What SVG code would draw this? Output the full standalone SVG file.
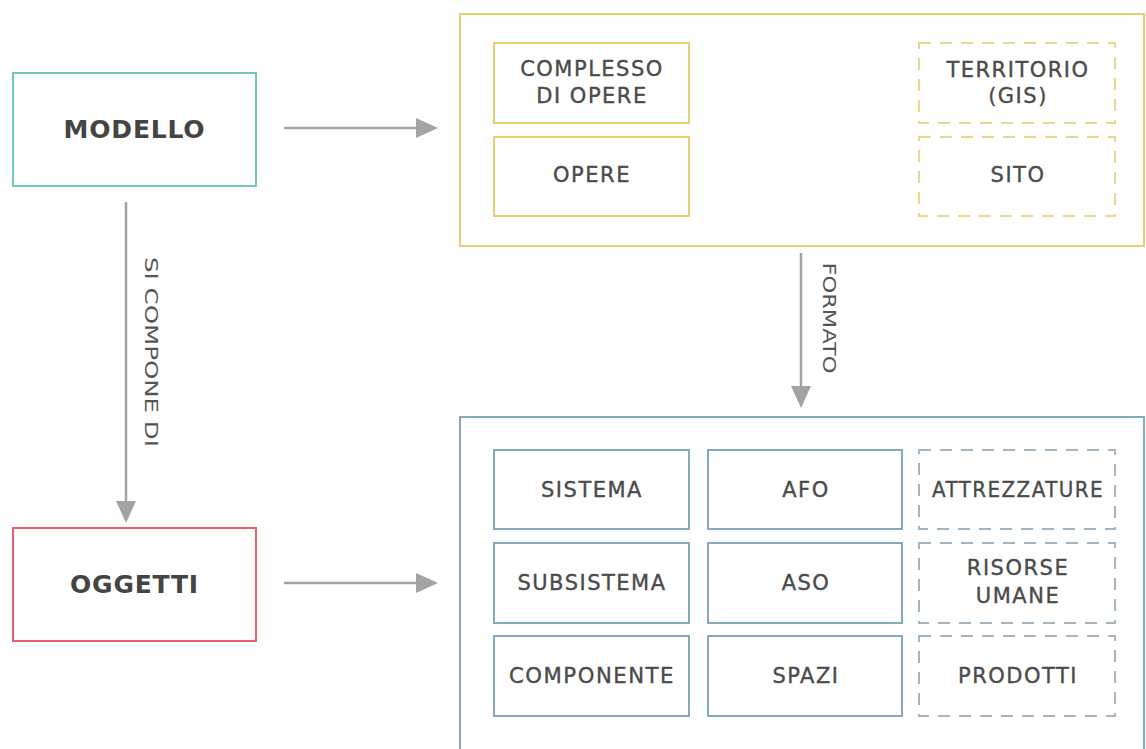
<svg xmlns="http://www.w3.org/2000/svg" width="1146" height="749" viewBox="0 0 1146 749">
<style>
text{font-family:"DejaVu Sans","Liberation Sans",sans-serif;fill:#4a4a4a;text-anchor:middle}
.big{font-size:25px;font-weight:bold;fill:#444;letter-spacing:0.8px}
.sm{font-size:21px;letter-spacing:1.5px;stroke:#4a4a4a;stroke-width:0.35}
.lbl{font-size:18px;fill:#555}
.yel{fill:none;stroke:#e6cf73;stroke-width:2}
.yeld{fill:none;stroke:#e9d88a;stroke-width:2;stroke-dasharray:12 9}
.blu{fill:none;stroke:#84a9c0;stroke-width:2}
.blud{fill:none;stroke:#a3b4c2;stroke-width:2;stroke-dasharray:12 9}
.line{stroke:#a3a3a3;stroke-width:2.5;fill:none}
.head{fill:#a3a3a3}
</style>
<rect width="1146" height="749" fill="#ffffff"/>
<g id="modello">
<rect x="13" y="73" width="243" height="113" fill="none" stroke="#74c6bb" stroke-width="2"/>
<text class="big" x="134.5" y="138">MODELLO</text>
</g>
<g id="oggetti">
<rect x="13" y="528" width="243" height="113" fill="none" stroke="#e2616c" stroke-width="2"/>
<text class="big" x="134.5" y="593">OGGETTI</text>
</g>
<g id="contenitore-opere">
<rect class="yel" x="460" y="14" width="684" height="232"/>
</g>
<g id="complesso">
<rect class="yel" x="494" y="43" width="195" height="80"/>
<text class="sm" x="592" y="76">COMPLESSO</text>
<text class="sm" x="592" y="103">DI OPERE</text>
</g>
<g id="opere">
<rect class="yel" x="494" y="137" width="195" height="79"/>
<text class="sm" x="592" y="182">OPERE</text>
</g>
<g id="territorio">
<rect class="yeld" x="919" y="43" width="196" height="80"/>
<text class="sm" x="1018" y="77">TERRITORIO</text>
<text class="sm" x="1018" y="103">(GIS)</text>
</g>
<g id="sito">
<rect class="yeld" x="919" y="137" width="196" height="79"/>
<text class="sm" x="1018" y="182">SITO</text>
</g>
<g id="contenitore-oggetti">
<rect class="blu" x="460" y="417" width="684" height="345"/>
</g>
<g id="sistema">
<rect class="blu" x="494" y="450" width="195" height="79"/>
<text class="sm" x="592" y="497">SISTEMA</text>
</g>
<g id="subsistema">
<rect class="blu" x="494" y="543" width="195" height="80"/>
<text class="sm" x="592" y="590">SUBSISTEMA</text>
</g>
<g id="componente">
<rect class="blu" x="494" y="636" width="195" height="80"/>
<text class="sm" x="592" y="683" textLength="166" lengthAdjust="spacingAndGlyphs">COMPONENTE</text>
</g>
<g id="afo">
<rect class="blu" x="708" y="450" width="194" height="79"/>
<text class="sm" x="806" y="497">AFO</text>
</g>
<g id="aso">
<rect class="blu" x="708" y="543" width="194" height="80"/>
<text class="sm" x="806" y="590">ASO</text>
</g>
<g id="spazi">
<rect class="blu" x="708" y="636" width="194" height="80"/>
<text class="sm" x="806" y="683">SPAZI</text>
</g>
<g id="attrezzature">
<rect class="blud" x="919" y="450" width="196" height="79"/>
<text class="sm" x="1018" y="497" textLength="172" lengthAdjust="spacingAndGlyphs">ATTREZZATURE</text>
</g>
<g id="risorse">
<rect class="blud" x="919" y="543" width="196" height="80"/>
<text class="sm" x="1018" y="575">RISORSE</text>
<text class="sm" x="1018" y="603">UMANE</text>
</g>
<g id="prodotti">
<rect class="blud" x="919" y="636" width="196" height="80"/>
<text class="sm" x="1018" y="683">PRODOTTI</text>
</g>
<g id="connectors">
<line class="line" x1="284" y1="128" x2="420" y2="128"/>
<polygon class="head" points="438,128 416,118 416,138"/>
<line class="line" x1="284" y1="583" x2="420" y2="583"/>
<polygon class="head" points="438,583 416,573 416,593"/>
<line class="line" x1="126" y1="202" x2="126" y2="505"/>
<polygon class="head" points="126,523 116,501 136,501"/>
<text class="lbl" transform="translate(145,352) rotate(90)" textLength="190" lengthAdjust="spacingAndGlyphs">SI COMPONE DI</text>
<line class="line" x1="801" y1="253" x2="801" y2="390"/>
<polygon class="head" points="801,408 791,386 811,386"/>
<text class="lbl" transform="translate(823,318) rotate(90)" textLength="111" lengthAdjust="spacingAndGlyphs">FORMATO</text>
</g>
</svg>
